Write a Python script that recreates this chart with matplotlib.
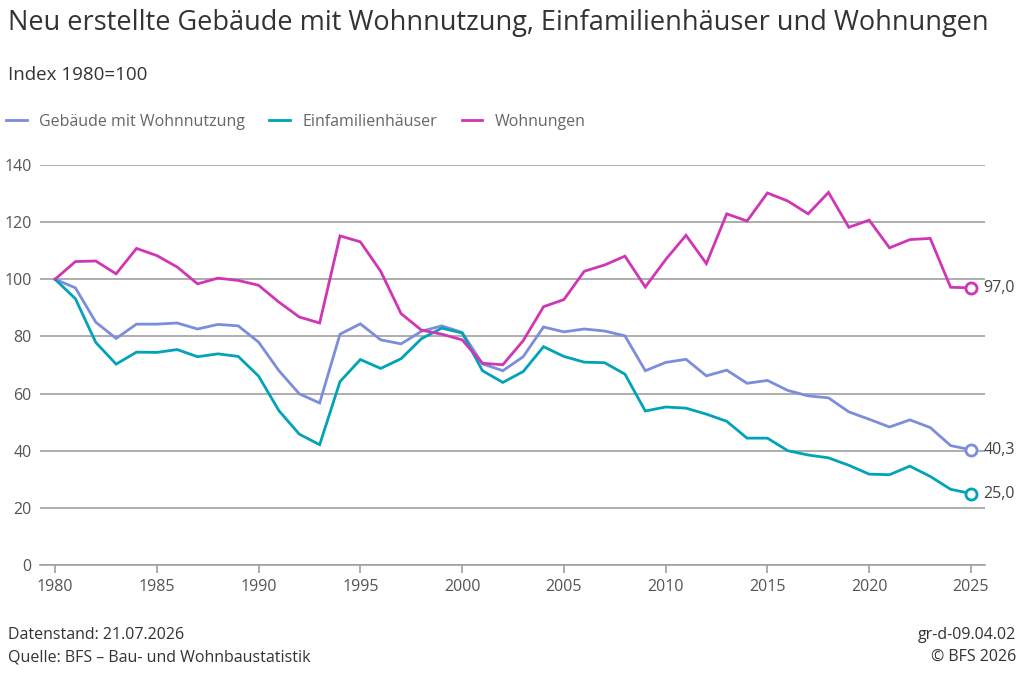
import numpy as np
import matplotlib
matplotlib.use("Agg")
import matplotlib.pyplot as plt

plt.rcParams["font.family"] = ["Open Sans", "DejaVu Sans"]

years = list(range(1980, 2026))

gebaeude = [
    100.0, 97.0, 85.0, 79.3, 84.3, 84.3, 84.7, 82.6, 84.2, 83.7,
    78.0, 68.0, 59.9, 56.7, 80.8, 84.4, 78.8, 77.4, 81.8, 83.7,
    81.4, 70.4, 68.0, 72.9, 83.3, 81.6, 82.6, 81.9, 80.2, 68.0,
    70.9, 72.0, 66.2, 68.2, 63.6, 64.6, 61.1, 59.2, 58.5, 53.6,
    51.0, 48.3, 50.8, 48.1, 41.8, 40.3,
]
einfamilien = [
    100.0, 93.2, 77.9, 70.3, 74.5, 74.4, 75.4, 72.9, 73.9, 73.0,
    66.1, 54.0, 45.8, 42.1, 64.2, 71.9, 68.8, 72.2, 79.2, 82.9,
    81.2, 68.0, 63.9, 67.7, 76.4, 73.0, 71.0, 70.8, 66.8, 53.9,
    55.3, 54.9, 52.8, 50.3, 44.4, 44.4, 40.0, 38.5, 37.5, 34.9,
    31.8, 31.6, 34.6, 31.0, 26.5, 25.0,
]
wohnungen = [
    100.0, 106.2, 106.4, 101.9, 110.8, 108.3, 104.3, 98.4, 100.4, 99.6,
    97.9, 92.0, 86.8, 84.7, 115.2, 113.1, 102.8, 88.0, 82.2, 80.8,
    78.8, 70.6, 70.1, 78.5, 90.4, 92.9, 102.8, 105.0, 108.1, 97.3,
    106.9, 115.4, 105.5, 122.9, 120.4, 130.2, 127.4, 122.9, 130.4, 118.2,
    120.7, 111.0, 113.9, 114.3, 97.2, 97.0,
]

series_names = ["Gebäude mit Wohnnutzung", "Einfamilienhäuser", "Wohnungen"]
series_colors = ["#7b8ddb", "#00a3b7", "#d036b4"]
end_labels = ["40,3", "25,0", "97,0"]

fig = plt.figure(figsize=(10.24, 6.75), dpi=100)
ax = fig.add_axes([40 / 1024, 1 - 565 / 675, 945 / 1024, 400 / 675])

handles = []
for values, name, color, lab in zip(
    [gebaeude, einfamilien, wohnungen], series_names, series_colors, end_labels
):
    (line,) = ax.plot(years, values, color=color, lw=2.0, label=name, clip_on=False,
                      solid_joinstyle="miter", zorder=3)
    handles.append(line)
    ax.plot(years[-1], values[-1], marker="o", ms=8, mfc="white", mec=color, mew=2.0,
            clip_on=False, zorder=4)
    ax.annotate(lab, (years[-1], values[-1]), xytext=(9, 0), textcoords="offset points",
                va="center", ha="left", fontsize=11.5, color="#444444")

ax.set_xlim(1979.26, 2025.69)
ax.set_ylim(0, 140)
ax.set_yticks(np.arange(0, 141, 20))
ax.set_xticks(np.arange(1980, 2026, 5))
ax.grid(axis="y", color="#a0a0a0", lw=1.2)
ax.set_axisbelow(True)
for side in ["top", "right", "left"]:
    ax.spines[side].set_visible(False)
ax.spines["bottom"].set_color("#a0a0a0")
ax.spines["bottom"].set_linewidth(1.2)
ax.tick_params(axis="y", length=0, pad=6, labelsize=11.5, labelcolor="#555555")
ax.tick_params(axis="x", length=6, width=1.2, color="#a0a0a0", pad=4, labelsize=11.5,
               labelcolor="#555555")

fig.text(8 / 1024, 1 - 23 / 675, "Neu erstellte Gebäude mit Wohnnutzung, Einfamilienhäuser und Wohnungen",
         fontsize=19.5, color="#333333", va="center", ha="left")
fig.text(8 / 1024, 1 - 75 / 675, "Index 1980=100", fontsize=13.5, color="#333333",
         va="center", ha="left")

fig.legend(handles=handles, loc="center left", bbox_to_anchor=(6 / 1024, 1 - 122 / 675),
           ncol=3, frameon=False, fontsize=11.5, labelcolor="#666666", handlelength=1.3,
           handletextpad=0.75, columnspacing=1.55, borderaxespad=0, borderpad=0)

fig.text(8 / 1024, 1 - 635 / 675, "Datenstand: 21.07.2026", fontsize=11.5, color="#333333",
         va="center", ha="left")
fig.text(8 / 1024, 1 - 657 / 675, "Quelle: BFS – Bau- und Wohnbaustatistik", fontsize=11.5,
         color="#333333", va="center", ha="left")
fig.text(1016 / 1024, 1 - 635 / 675, "gr-d-09.04.02", fontsize=11.5, color="#333333",
         va="center", ha="right")
fig.text(1016 / 1024, 1 - 657 / 675, "© BFS 2026", fontsize=11.5, color="#333333",
         va="center", ha="right")

fig.savefig("out.png", dpi=100)
